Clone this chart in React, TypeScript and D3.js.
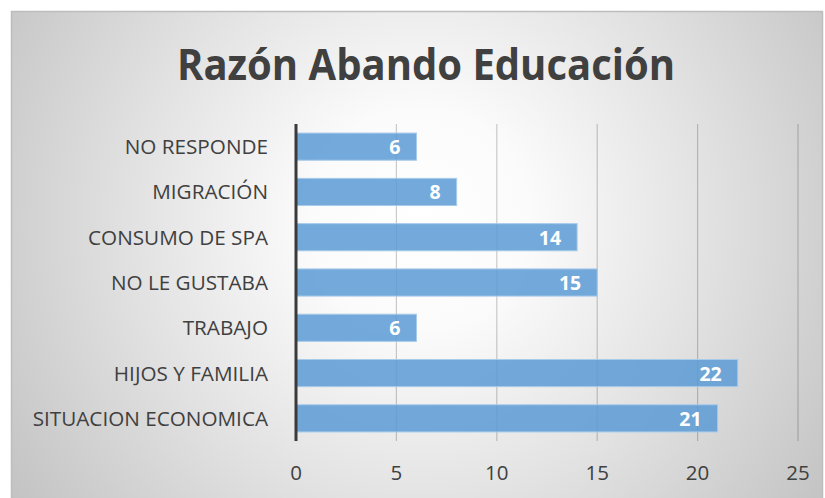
import React from "react";
import * as d3 from "d3";

const categories = [
  "NO RESPONDE",
  "MIGRACIÓN",
  "CONSUMO DE SPA",
  "NO LE GUSTABA",
  "TRABAJO",
  "HIJOS Y FAMILIA",
  "SITUACION ECONOMICA",
];
const values = [6, 8, 14, 15, 6, 22, 21];
const ticks = [0, 5, 10, 15, 20, 25];
const title = "Razón Abando Educación";

export default function App() {
  const W = 825;
  const H = 498;
  const x = d3.scaleLinear().domain([0, 25]).range([296, 798]);
  const y = d3.scaleBand().domain(categories).range([124, 441]).paddingInner(0.4).paddingOuter(0.2);
  const font = "'Open Sans', 'DejaVu Sans', sans-serif";

  return (
    <svg
      width={W}
      height={H}
      style={{ position: "absolute", left: 0, top: 0, background: "#ffffff" }}
    >
      <defs>
        <radialGradient id="bg" gradientUnits="userSpaceOnUse" cx={420} cy={220} r={500}>
          <stop offset="0" stopColor="#ffffff" />
          <stop offset="0.22" stopColor="#fbfbfb" />
          <stop offset="0.6" stopColor="#e0e0e0" />
          <stop offset="1" stopColor="#c2c2c2" />
        </radialGradient>
      </defs>
      <rect x={11.5} y={11.5} width={811} height={500} fill="url(#bg)" stroke="#bdbdbd" strokeWidth={1.5} />
      <text
        x={426}
        y={80}
        textAnchor="middle"
        fontFamily={font}
        fontWeight={700}
        fontSize={43}
        fill="#404040"
        textLength={498}
        lengthAdjust="spacingAndGlyphs"
      >
        {title}
      </text>
      {ticks.slice(1).map((t) => (
        <line
          key={"g" + t}
          x1={x(t)}
          x2={x(t)}
          y1={124}
          y2={441}
          stroke="rgba(0,0,0,0.2)"
          strokeWidth={1.2}
        />
      ))}
      {categories.map((c, i) => (
        <g key={c}>
          <rect
            x={x(0)}
            y={y(c)!}
            width={x(values[i]) - x(0)}
            height={y.bandwidth()}
            fill="#5B9BD5"
            fillOpacity={0.85}
            stroke="#a9cbea"
            strokeWidth={1}
          />
          <text
            x={x(values[i]) - 16}
            y={y(c)! + y.bandwidth() / 2 + 7.5}
            textAnchor="end"
            fontFamily={font}
            fontWeight={700}
            fontSize={19.5}
            fill="#ffffff"
          >
            {values[i]}
          </text>
          <text
            x={268}
            y={y(c)! + y.bandwidth() / 2 + 7.5}
            textAnchor="end"
            fontFamily={font}
            fontSize={20.7}
            fill="#404040"
          >
            {c}
          </text>
        </g>
      ))}
      <line x1={x(0)} x2={x(0)} y1={124} y2={441} stroke="#3a3a3a" strokeWidth={3} />
      {ticks.map((t) => (
        <text
          key={"t" + t}
          x={x(t)}
          y={480}
          textAnchor="middle"
          fontFamily={font}
          fontSize={20.5}
          fill="#404040"
        >
          {t}
        </text>
      ))}
    </svg>
  );
}
